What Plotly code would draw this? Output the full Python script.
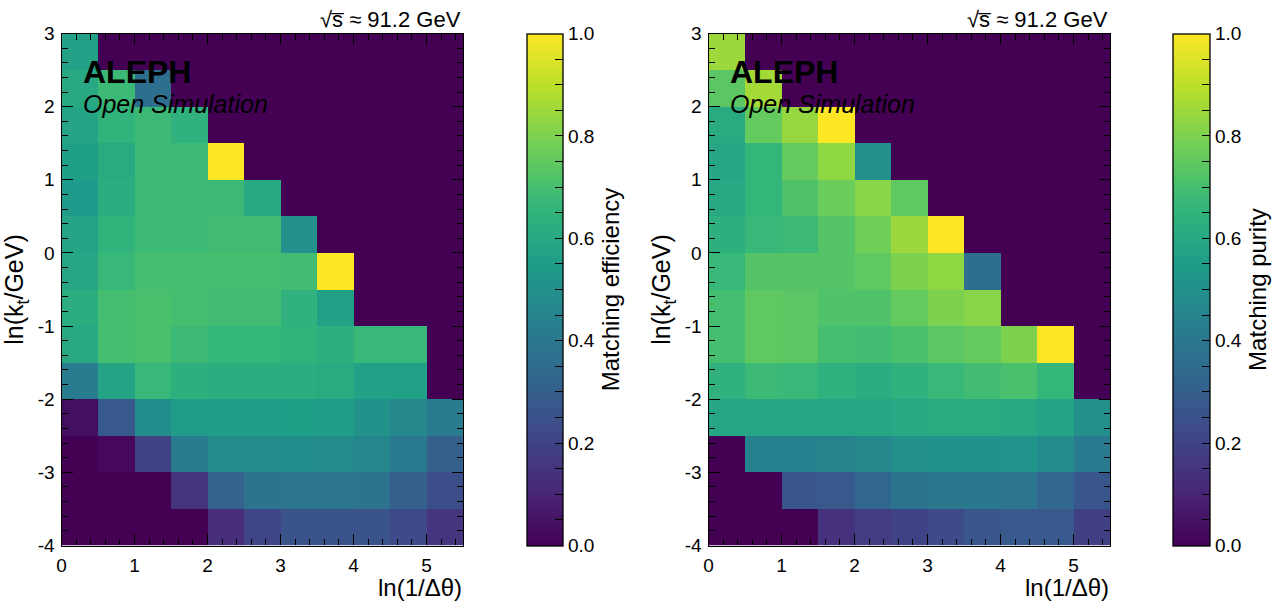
import numpy as np
import plotly.graph_objects as go

W, H = 1276, 602
FONT = "Liberation Sans, Arial, Helvetica, sans-serif"

# Bin edges of the Lund-plane histograms
x_edges = np.arange(0.0, 5.51, 0.5)    # ln(1/Δθ)
y_edges = np.arange(-4.0, 3.01, 0.5)   # ln(kt/GeV)

x_tick_vals = [0, 1, 2, 3, 4, 5]
x_tick_text = ["0", "1", "2", "3", "4", "5"]
y_tick_vals = [-4, -3, -2, -1, 0, 1, 2, 3]
y_tick_text = ["-4", "-3", "-2", "-1", "0", "1", "2", "3"]
cbar_tick_vals = [0.0, 0.2, 0.4, 0.6, 0.8, 1.0]
cbar_tick_text = ["0.0", "0.2", "0.4", "0.6", "0.8", "1.0"]
cbar_minor_step = 0.05

# Rows run from the top bin (2.5..3) down to the bottom bin (-4..-3.5)
efficiency_rows = [
    [0.57, 0.00, 0.00, 0.00, 0.00, 0.00, 0.00, 0.00, 0.00, 0.00, 0.00],
    [0.60, 0.68, 0.36, 0.00, 0.00, 0.00, 0.00, 0.00, 0.00, 0.00, 0.00],
    [0.58, 0.65, 0.68, 0.64, 0.00, 0.00, 0.00, 0.00, 0.00, 0.00, 0.00],
    [0.56, 0.61, 0.68, 0.68, 1.00, 0.00, 0.00, 0.00, 0.00, 0.00, 0.00],
    [0.54, 0.62, 0.68, 0.68, 0.68, 0.60, 0.00, 0.00, 0.00, 0.00, 0.00],
    [0.58, 0.65, 0.68, 0.68, 0.69, 0.69, 0.50, 0.00, 0.00, 0.00, 0.00],
    [0.59, 0.67, 0.70, 0.70, 0.70, 0.70, 0.69, 1.00, 0.00, 0.00, 0.00],
    [0.62, 0.70, 0.71, 0.70, 0.69, 0.69, 0.64, 0.57, 0.00, 0.00, 0.00],
    [0.60, 0.70, 0.71, 0.68, 0.66, 0.66, 0.65, 0.63, 0.67, 0.67, 0.00],
    [0.42, 0.58, 0.67, 0.63, 0.62, 0.62, 0.62, 0.61, 0.57, 0.57, 0.00],
    [0.04, 0.28, 0.49, 0.55, 0.55, 0.55, 0.56, 0.55, 0.51, 0.47, 0.42],
    [0.00, 0.02, 0.20, 0.42, 0.48, 0.48, 0.49, 0.48, 0.46, 0.41, 0.30],
    [0.00, 0.00, 0.00, 0.15, 0.31, 0.38, 0.39, 0.39, 0.38, 0.30, 0.24],
    [0.00, 0.00, 0.00, 0.00, 0.13, 0.21, 0.26, 0.26, 0.26, 0.23, 0.15],
]

purity_rows = [
    [0.85, 0.00, 0.00, 0.00, 0.00, 0.00, 0.00, 0.00, 0.00, 0.00, 0.00],
    [0.74, 0.86, 0.00, 0.00, 0.00, 0.00, 0.00, 0.00, 0.00, 0.00, 0.00],
    [0.61, 0.76, 0.84, 1.00, 0.00, 0.00, 0.00, 0.00, 0.00, 0.00, 0.00],
    [0.59, 0.66, 0.76, 0.83, 0.50, 0.00, 0.00, 0.00, 0.00, 0.00, 0.00],
    [0.60, 0.66, 0.72, 0.77, 0.82, 0.75, 0.00, 0.00, 0.00, 0.00, 0.00],
    [0.63, 0.67, 0.68, 0.73, 0.78, 0.85, 1.00, 0.00, 0.00, 0.00, 0.00],
    [0.67, 0.73, 0.73, 0.73, 0.75, 0.80, 0.83, 0.36, 0.00, 0.00, 0.00],
    [0.70, 0.75, 0.74, 0.72, 0.72, 0.76, 0.80, 0.82, 0.00, 0.00, 0.00],
    [0.70, 0.75, 0.74, 0.70, 0.69, 0.71, 0.74, 0.76, 0.80, 1.00, 0.00],
    [0.64, 0.68, 0.67, 0.64, 0.62, 0.64, 0.67, 0.69, 0.71, 0.66, 0.00],
    [0.59, 0.59, 0.59, 0.59, 0.59, 0.60, 0.61, 0.61, 0.60, 0.58, 0.50],
    [0.00, 0.44, 0.44, 0.45, 0.47, 0.50, 0.51, 0.51, 0.52, 0.48, 0.41],
    [0.00, 0.00, 0.27, 0.28, 0.33, 0.38, 0.40, 0.40, 0.39, 0.33, 0.27],
    [0.00, 0.00, 0.00, 0.14, 0.18, 0.20, 0.23, 0.27, 0.28, 0.28, 0.19],
]

panel_titles = ["Matching efficiency", "Matching purity"]


def px_x(x):
    return x / W


def px_y(y):
    return 1.0 - y / H


def axis_key(letter, n):
    return f"{letter}axis" if n == 1 else f"{letter}axis{n}"


def axis_ref(letter, n):
    return letter if n == 1 else f"{letter}{n}"


# colour-bar ticks every 0.05, labelled only on the major values
cb_ticks = [round(k * cbar_minor_step, 2) for k in range(int(round(1 / cbar_minor_step)) + 1)]
cb_text = [cbar_tick_text[cbar_tick_vals.index(v)] if v in cbar_tick_vals else ""
           for v in cb_ticks]

plot_top, plot_bottom = 33.5, 545.5
panels = [
    dict(left=61.5, right=463.0, cb_left=526.5, cb_right=562.5,
         rows=efficiency_rows, title=panel_titles[0]),
    dict(left=708.5, right=1110.0, cb_left=1173.0, cb_right=1209.5,
         rows=purity_rows, title=panel_titles[1]),
]

fig = go.Figure()
layout = dict(
    width=W, height=H,
    margin=dict(l=0, r=0, t=0, b=0, autoexpand=False),
    paper_bgcolor="white", plot_bgcolor="white",
    font=dict(family=FONT, color="black", size=19),
    showlegend=False,
)
annotations = []

frame = dict(showline=True, linecolor="black", linewidth=1.3,
             showgrid=False, zeroline=False, automargin=False)
tickfont = dict(family=FONT, size=19, color="black")
ydom = [px_y(plot_bottom), px_y(plot_top)]

for i, p in enumerate(panels):
    n = i + 1
    z = np.array(p["rows"][::-1])
    fig.add_trace(go.Heatmap(
        z=z, x=x_edges, y=y_edges, colorscale="Viridis", zmin=0, zmax=1,
        xaxis=axis_ref("x", n), yaxis=axis_ref("y", n), hoverinfo="skip",
        colorbar=dict(
            x=px_x(p["cb_left"]), xanchor="left", xpad=0,
            y=px_y(plot_bottom), yanchor="bottom", ypad=0,
            len=(plot_bottom - plot_top) / H, lenmode="fraction",
            thickness=p["cb_right"] - p["cb_left"], thicknessmode="pixels",
            outlinewidth=1.3, outlinecolor="black",
            ticks="inside", ticklen=8, tickwidth=1.2, tickcolor="black",
            tickmode="array", tickvals=cb_ticks, ticktext=cb_text,
            tickfont=tickfont,
            title=dict(text=p["title"], side="right",
                       font=dict(family=FONT, size=24, color="black")))))

    layout[axis_key("x", n)] = dict(
        domain=[px_x(p["left"]), px_x(p["right"])], anchor=axis_ref("y", n),
        range=[0, 5.5], mirror="allticks", ticks="inside", ticklen=11,
        tickwidth=1.3, tickcolor="black", tickvals=x_tick_vals,
        ticktext=x_tick_text, tickfont=tickfont, ticklabelstandoff=3,
        minor=dict(ticks="inside", ticklen=6, dtick=0.2, tick0=0,
                   tickcolor="black", tickwidth=1.1),
        **frame)
    layout[axis_key("y", n)] = dict(
        domain=ydom, anchor=axis_ref("x", n),
        range=[-4, 3], mirror="allticks", ticks="inside", ticklen=11,
        tickwidth=1.3, tickcolor="black", tickvals=y_tick_vals,
        ticktext=y_tick_text, tickfont=tickfont, ticklabelstandoff=2,
        minor=dict(ticks="inside", ticklen=6, dtick=0.2, tick0=0,
                   tickcolor="black", tickwidth=1.1),
        title=dict(text="ln(k<sub>t</sub>/GeV)", standoff=6,
                   font=dict(family=FONT, size=25, color="black")),
        **frame)

    # x-axis title, right-aligned with the frame
    annotations.append(dict(
        text="ln(1/Δθ)", x=px_x(p["right"] + 1), y=px_y(587),
        xref="paper", yref="paper", xanchor="right", yanchor="middle",
        showarrow=False, font=dict(family=FONT, size=24, color="black")))
    # energy label above the frame
    annotations.append(dict(
        text="√s\u0305 ≈ 91.2 GeV",
        x=px_x(p["right"]), y=px_y(20),
        xref="paper", yref="paper", xanchor="right", yanchor="middle",
        showarrow=False, font=dict(family=FONT, size=22, color="black")))
    # experiment label inside the frame
    annotations.append(dict(
        text="<b>ALEPH</b>", x=px_x(p["left"] + 19), y=px_y(72),
        xref="paper", yref="paper", xanchor="left", yanchor="middle",
        showarrow=False, font=dict(family=FONT, size=32, color="black")))
    annotations.append(dict(
        text="<i>Open Simulation</i>", x=px_x(p["left"] + 19), y=px_y(104),
        xref="paper", yref="paper", xanchor="left", yanchor="middle",
        showarrow=False, font=dict(family=FONT, size=25, color="black")))

layout["annotations"] = annotations
fig.update_layout(**layout)
fig.write_html("out.html")
